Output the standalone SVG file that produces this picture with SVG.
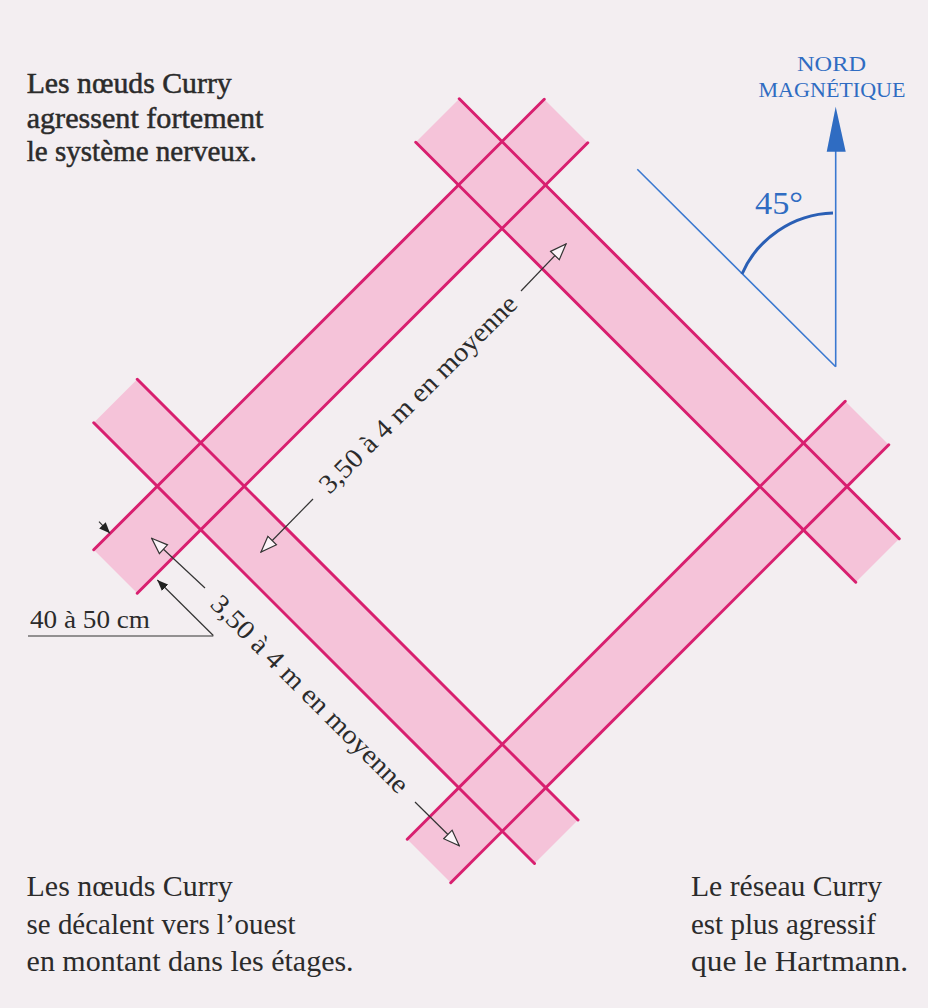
<svg xmlns="http://www.w3.org/2000/svg" width="928" height="1008" viewBox="0 0 928 1008">
  <style>
    .band { fill: #f5c3d9; stroke: none; }
    .pink { stroke: #d81f6f; stroke-width: 3; stroke-linecap: round; fill: none; }
    .txt { font-family: "Liberation Serif", "Times New Roman", serif; fill: #2b2b2b; }
    .hd { stroke: #2b2b2b; stroke-width: 0.5; }
    .blue { font-family: "Liberation Serif", "Times New Roman", serif; fill: #2f6cc2; }
    .dim { stroke: #333; stroke-width: 1.2; fill: none; }
  </style>
  <defs>
    <marker id="open" viewBox="0 0 18 14" refX="17" refY="7" markerWidth="18" markerHeight="14" markerUnits="userSpaceOnUse" orient="auto">
      <path d="M1,1 L17,7 L1,13 Z" fill="#fbf4f8" stroke="#333" stroke-width="1.2"/>
    </marker>
    <marker id="solid" viewBox="0 0 11 9" refX="11" refY="4.5" markerWidth="11" markerHeight="9" markerUnits="userSpaceOnUse" orient="auto">
      <path d="M0,0 L11,4.5 L0,9 Z" fill="#222"/>
    </marker>
  </defs>
  <rect width="928" height="1008" fill="#f3eef1"/>

  <g id="band-fills">
    <polygon id="fill-tl" class="band" points="544.25,99.25 587.75,142.75 137.25,593.25 93.75,549.75"/>
    <polygon id="fill-tr" class="band" points="459.25,98.75 899.25,538.75 855.75,582.25 415.75,142.25"/>
    <polygon id="fill-br" class="band" points="845.25,401.25 888.75,444.75 450.75,882.75 407.25,839.25"/>
    <polygon id="fill-bl" class="band" points="137.25,379.25 578,820 534.5,863.5 93.75,422.75"/>
  </g>
  <g id="band-lines">
    <line class="pink" x1="544.25" y1="99.25" x2="93.75" y2="549.75"/>
    <line class="pink" x1="587.75" y1="142.75" x2="137.25" y2="593.25"/>
    <line class="pink" x1="459.25" y1="98.75" x2="899.25" y2="538.75"/>
    <line class="pink" x1="415.75" y1="142.25" x2="855.75" y2="582.25"/>
    <line class="pink" x1="845.25" y1="401.25" x2="407.25" y2="839.25"/>
    <line class="pink" x1="888.75" y1="444.75" x2="450.75" y2="882.75"/>
    <line class="pink" x1="137.25" y1="379.25" x2="578" y2="820"/>
    <line class="pink" x1="93.75" y1="422.75" x2="534.5" y2="863.5"/>
  </g>

  <g id="compass">
    <line x1="835.7" y1="150" x2="835.7" y2="366.7" stroke="#3a78d0" stroke-width="1.6"/>
    <polygon points="835.7,106.7 826.7,151.7 845.7,151.7" fill="#2f6cc2"/>
    <line x1="637.3" y1="169.3" x2="835.7" y2="366.7" stroke="#3a78d0" stroke-width="1.6"/>
    <path d="M742,274 C757,239 793,214 833,213" fill="none" stroke="#2a5fb5" stroke-width="3"/>
    <text class="blue" x="831.5" y="71" font-size="21" text-anchor="middle" textLength="69" lengthAdjust="spacingAndGlyphs">NORD</text>
    <text class="blue" x="832" y="96.7" font-size="21" text-anchor="middle" textLength="147" lengthAdjust="spacingAndGlyphs">MAGNÉTIQUE</text>
    <text class="blue" x="755" y="214" font-size="32" textLength="48" lengthAdjust="spacingAndGlyphs">45°</text>
  </g>

  <g id="dimensions">
    <line class="dim" x1="521" y1="291" x2="566" y2="244" marker-end="url(#open)"/>
    <line class="dim" x1="313" y1="499" x2="261" y2="552" marker-end="url(#open)"/>
    <line class="dim" x1="205" y1="588" x2="151.7" y2="538.3" marker-end="url(#open)"/>
    <line class="dim" x1="415" y1="802" x2="459.3" y2="845.7" marker-end="url(#open)"/>
    <line class="dim" x1="99" y1="521.7" x2="110" y2="533.3" marker-end="url(#solid)"/>
    <line class="dim" x1="213.3" y1="635.5" x2="157.3" y2="580" marker-end="url(#solid)"/>
    <line class="dim" x1="28" y1="636" x2="213.3" y2="636"/>
    <text class="txt" x="30" y="627.7" font-size="25" textLength="120" lengthAdjust="spacingAndGlyphs">40 à 50 cm</text>
    <text class="txt" transform="translate(418,394) rotate(-45)" x="0" y="9" font-size="27" text-anchor="middle" textLength="268" lengthAdjust="spacingAndGlyphs">3,50 à 4 m en moyenne</text>
    <text class="txt" transform="translate(310,694) rotate(45)" x="0" y="9" font-size="27" text-anchor="middle" textLength="268" lengthAdjust="spacingAndGlyphs">3,50 à 4 m en moyenne</text>
  </g>

  <g id="label-top-left" class="txt hd" font-size="29">
    <text x="26.7" y="93.3" textLength="205" lengthAdjust="spacingAndGlyphs">Les nœuds Curry</text>
    <text x="26.7" y="128.3" textLength="236.7" lengthAdjust="spacingAndGlyphs">agressent fortement</text>
    <text x="26.7" y="160.5" textLength="230" lengthAdjust="spacingAndGlyphs">le système nerveux.</text>
  </g>
  <g id="label-bottom-left" class="txt" font-size="29">
    <text x="26.6" y="896" textLength="206" lengthAdjust="spacingAndGlyphs">Les nœuds Curry</text>
    <text x="26.6" y="934" textLength="269" lengthAdjust="spacingAndGlyphs">se décalent vers l’ouest</text>
    <text x="26.6" y="971" textLength="327" lengthAdjust="spacingAndGlyphs">en montant dans les étages.</text>
  </g>
  <g id="label-bottom-right" class="txt" font-size="29">
    <text x="691" y="896" textLength="191" lengthAdjust="spacingAndGlyphs">Le réseau Curry</text>
    <text x="691" y="934" textLength="185" lengthAdjust="spacingAndGlyphs">est plus agressif</text>
    <text x="691" y="971" textLength="217" lengthAdjust="spacingAndGlyphs">que le Hartmann.</text>
  </g>
</svg>
